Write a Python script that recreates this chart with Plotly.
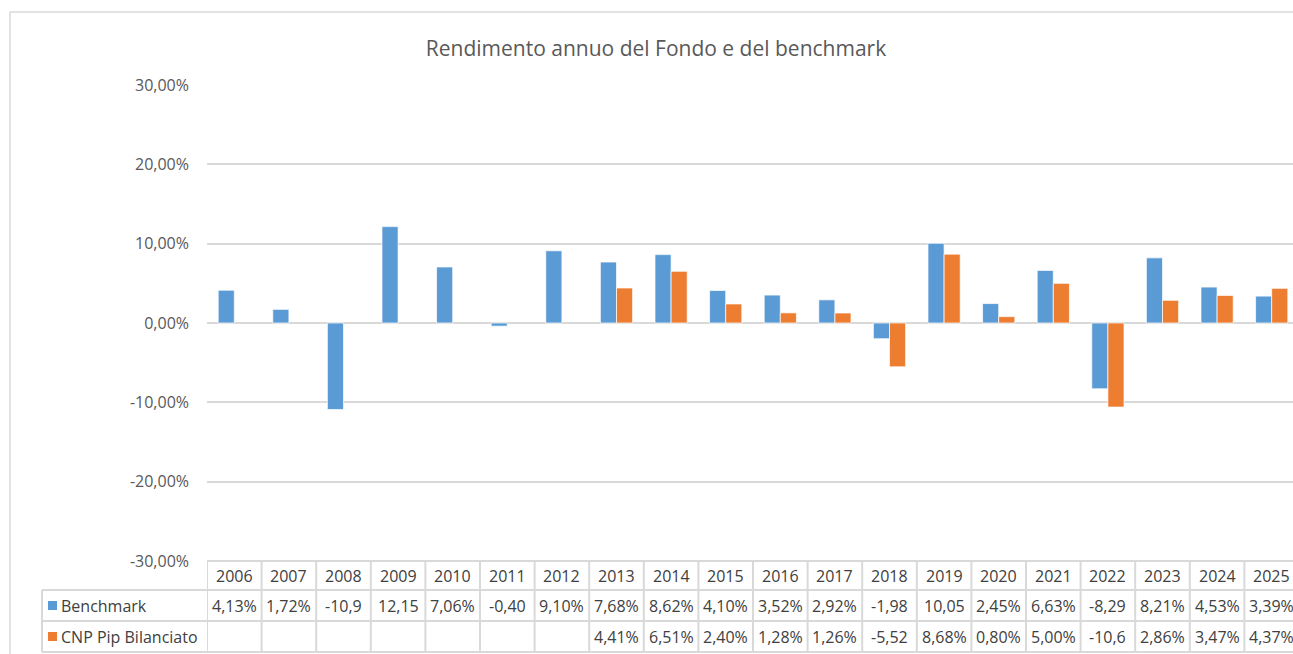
import plotly.graph_objects as go

years = ["2006", "2007", "2008", "2009", "2010", "2011", "2012", "2013", "2014", "2015",
         "2016", "2017", "2018", "2019", "2020", "2021", "2022", "2023", "2024", "2025"]
benchmark = [4.13, 1.72, -10.9, 12.15, 7.06, -0.40, 9.10, 7.68, 8.62, 4.10,
             3.52, 2.92, -1.98, 10.05, 2.45, 6.63, -8.29, 8.21, 4.53, 3.39]
fondo = [None, None, None, None, None, None, None, 4.41, 6.51, 2.40,
         1.28, 1.26, -5.52, 8.68, 0.80, 5.00, -10.6, 2.86, 3.47, 4.37]
bench_labels = ["4,13%", "1,72%", "-10,9", "12,15", "7,06%", "-0,40", "9,10%", "7,68%", "8,62%", "4,10%",
                "3,52%", "2,92%", "-1,98", "10,05", "2,45%", "6,63%", "-8,29", "8,21%", "4,53%", "3,39%"]
fondo_labels = ["", "", "", "", "", "", "", "4,41%", "6,51%", "2,40%",
                "1,28%", "1,26%", "-5,52", "8,68%", "0,80%", "5,00%", "-10,6", "2,86%", "3,47%", "4,37%"]
series_names = ["Benchmark", "CNP Pip Bilanciato"]
title_text = "Rendimento annuo del Fondo e del benchmark"
y_ticks = [-30, -20, -10, 0, 10, 20, 30]
y_tick_text = ["-30,00%", "-20,00%", "-10,00%", "0,00%", "10,00%", "20,00%", "30,00%"]

BLUE = "#5B9BD5"
ORANGE = "#ED7D31"
GRID = "#D9D9D9"
FONT = "Open Sans"

W, H = 1293, 654
L, R, T, B = 207, 0, 85, 93
PW = W - L - R
PH = H - T - B


def px_x(px):
    return (px - L) / PW


def px_y(py):
    return (H - B - py) / PH


fig = go.Figure()
fig.add_trace(go.Bar(x=years, y=benchmark, name=series_names[0],
                     marker=dict(color=BLUE, line=dict(color="white", width=0.7))))
fig.add_trace(go.Bar(x=years, y=fondo, name=series_names[1],
                     marker=dict(color=ORANGE, line=dict(color="white", width=0.7))))

n = len(years)
shapes = []
# outer chart frame
shapes.append(dict(type="rect", xref="paper", yref="paper",
                   x0=px_x(10), x1=px_x(1320), y0=px_y(700), y1=px_y(12),
                   line=dict(color=GRID, width=1.5), fillcolor="rgba(0,0,0,0)", layer="below"))

row_lines = [561, 590, 621, 652]
# vertical table lines at category boundaries
for i in range(n + 1):
    shapes.append(dict(type="line", xref="x", yref="paper",
                       x0=i - 0.5, x1=i - 0.5, y0=px_y(561), y1=px_y(652),
                       line=dict(color=GRID, width=2)))
# horizontal table lines
shapes.append(dict(type="line", xref="x", yref="paper", x0=-0.5, x1=n - 0.5,
                   y0=px_y(561), y1=px_y(561), line=dict(color=GRID, width=2)))
for ry in row_lines[1:]:
    shapes.append(dict(type="line", xref="paper", yref="paper", x0=px_x(42), x1=1.01,
                       y0=px_y(ry), y1=px_y(ry), line=dict(color=GRID, width=2)))
# legend column left border
shapes.append(dict(type="line", xref="paper", yref="paper", x0=px_x(42), x1=px_x(42),
                   y0=px_y(590), y1=px_y(652), line=dict(color=GRID, width=2)))
# legend swatches
for k, col in enumerate([BLUE, ORANGE]):
    cy = (row_lines[k + 1] + row_lines[k + 2]) / 2
    shapes.append(dict(type="rect", xref="paper", yref="paper",
                       x0=px_x(48), x1=px_x(57), y0=px_y(cy + 4.5), y1=px_y(cy - 4.5),
                       line=dict(width=0), fillcolor=col))

annotations = []
tf = dict(family=FONT, size=16, color="#404040")
hdr_y = px_y((row_lines[0] + row_lines[1]) / 2)
b_y = px_y((row_lines[1] + row_lines[2]) / 2)
f_y = px_y((row_lines[2] + row_lines[3]) / 2)
for i, yr in enumerate(years):
    annotations.append(dict(x=i, y=hdr_y, xref="x", yref="paper", text=yr, showarrow=False,
                            font=tf, xanchor="center", yanchor="middle"))
    annotations.append(dict(x=i, y=b_y, xref="x", yref="paper", text=bench_labels[i], showarrow=False,
                            font=tf, xanchor="center", yanchor="middle"))
    if fondo_labels[i]:
        annotations.append(dict(x=i, y=f_y, xref="x", yref="paper", text=fondo_labels[i], showarrow=False,
                                font=tf, xanchor="center", yanchor="middle"))
for k, nm in enumerate(series_names):
    yy = b_y if k == 0 else f_y
    annotations.append(dict(x=px_x(59), y=yy, xref="paper", yref="paper", text=nm, showarrow=False,
                            font=tf, xanchor="left", yanchor="middle"))

fig.update_layout(
    width=W, height=H,
    margin=dict(l=L, r=R, t=T, b=B, autoexpand=False),
    paper_bgcolor="white", plot_bgcolor="white",
    showlegend=False,
    barmode="group", bargap=0.41, bargroupgap=0,
    title=dict(text=title_text, x=656 / W, xanchor="center", y=1 - 49 / H, yanchor="middle",
               xref="container", yref="container",
               font=dict(family=FONT, size=21, color="#595959")),
    xaxis=dict(type="category", range=[-0.5, n - 0.5 - 6 / 54.6], showticklabels=False,
               showgrid=False, zeroline=False, showline=False, ticks=""),
    yaxis=dict(range=[-30, 30], tickvals=y_ticks, ticktext=y_tick_text,
               showgrid=True, gridcolor=GRID, gridwidth=1.5, zeroline=True, zerolinecolor=GRID,
               zerolinewidth=1.5, showline=False, ticks="", ticklabelstandoff=17,
               tickfont=dict(family=FONT, size=16, color="#595959")),
    shapes=shapes,
    annotations=annotations,
)

fig.write_html("out.html", config={"displayModeBar": False},
               post_script="document.body.style.margin='0';document.body.style.overflow='hidden';")
